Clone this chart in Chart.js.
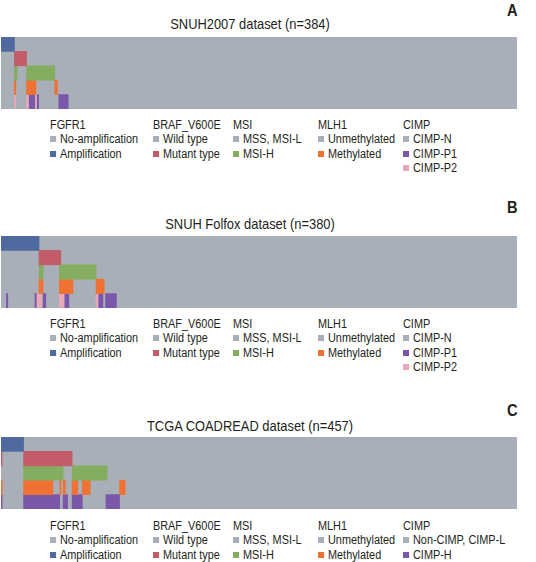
<!DOCTYPE html>
<html>
<head>
<meta charset="utf-8">
<script src="https://cdn.jsdelivr.net/npm/chart.js@4.4.1/dist/chart.umd.min.js"></script>
<style>
  body { margin: 0; background: #fff; width: 536px; height: 562px; position: relative; overflow: hidden;
         font-family: "Liberation Sans", Arial, sans-serif; color: #231f20; }
  .title { position: absolute; left: 0; width: 500px; text-align: center; font-size: 15px; line-height: 16px;
           transform: scaleX(0.86); transform-origin: 250px 0; }
  .letter { position: absolute; left: 507px; font-size: 17px; font-weight: bold; line-height: 18px;
            transform: scaleX(0.86); transform-origin: 0 0; }
  .heat { position: absolute; left: 1px; width: 516px; height: 72px; }
  .legend { position: absolute; font-size: 12.5px; line-height: 14.6px; white-space: nowrap;
            transform: scaleX(0.87); transform-origin: 0 0; }
  .legend .item { position: relative; padding-left: 11.5px; }
  .legend .item i { position: absolute; left: 0; top: 4px; width: 7px; height: 6px; }
</style>
</head>
<body>
<div class="letter" style="top:2px">A</div>
<div class="title" style="top:16px">SNUH2007 dataset (n=384)</div>
<div class="heat" style="top:37px"><canvas id="heatA"></canvas></div>
<div id="legA"></div>

<div class="letter" style="top:199px">B</div>
<div class="title" style="top:216px">SNUH Folfox dataset (n=380)</div>
<div class="heat" style="top:236px"><canvas id="heatB"></canvas></div>
<div id="legB"></div>

<div class="letter" style="top:402px">C</div>
<div class="title" style="top:418px">TCGA COADREAD dataset (n=457)</div>
<div class="heat" style="top:437px"><canvas id="heatC"></canvas></div>
<div id="legC"></div>

<script>
const rows = ['FGFR1', 'BRAF_V600E', 'MSI', 'MLH1', 'CIMP']

// sample index ranges [start, end) for altered samples, per panel
const samplesA = 384
const fgfr1AmpA = [[0, 10]]
const brafMutA = [[10, 19]]
const msiHighA = [[10, 12], [19, 40]]
const mlh1MethA = [[10, 11], [19, 26], [40, 42]]
const cimpP1A = [[21, 25], [27, 28], [43, 50]]
const cimpP2A = [[10, 11], [19, 21], [26, 27]]

const samplesB = 380
const fgfr1AmpB = [[0, 28]]
const brafMutB = [[28, 44]]
const msiHighB = [[28, 31], [43, 70]]
const mlh1MethB = [[28, 31], [43, 53], [70, 76]]
const cimpP1B = [[4, 5], [25, 26], [31, 33], [47, 50], [72, 75], [77, 85]]
const cimpP2B = [[26, 30], [43, 47], [70, 72]]

const samplesC = 457
const fgfr1AmpC = [[0, 20]]
const brafMutC = [[0, 1], [20, 63]]
const msiHighC = [[20, 55], [63, 94]]
const mlh1MethC = [[0, 1], [20, 46], [52, 53], [55, 57], [63, 68], [72, 79], [105, 110]]
const cimpHighC = [[0, 1], [20, 52], [55, 59], [63, 72], [93, 105]]

const colors = {
  base: '#a8afb9',
  amp: '#4f6a9f',
  mut: '#c25c68',
  msi: '#85ad5f',
  meth: '#f07232',
  p1: '#7a57a9',
  p2: '#e7a9b7'
}

function seg(row, list) {
  return list.map(r => ({ y: row, x: r }))
}

function makeHeat(id, n, groups) {
  const datasets = []
  groups.forEach(g => {
    datasets.push({ data: seg(g[0], g[2]), backgroundColor: g[1] })
  })
  // gray background bars go last so chart.js paints them underneath
  datasets.push({
    data: rows.map(r => ({ y: r, x: [0, n] })),
    backgroundColor: colors.base
  })
  datasets.forEach(d => {
    d.barPercentage = 1
    d.categoryPercentage = 1
    d.grouped = false
    d.borderWidth = 0
  })
  new Chart(document.getElementById(id), {
    type: 'bar',
    data: { labels: rows, datasets: datasets },
    options: {
      indexAxis: 'y',
      responsive: true,
      maintainAspectRatio: false,
      animation: false,
      layout: { padding: 0 },
      plugins: { legend: { display: false }, tooltip: { enabled: false } },
      scales: {
        x: { display: false, min: 0, max: n },
        y: { display: false }
      }
    }
  })
}

makeHeat('heatA', samplesA, [
  ['FGFR1', colors.amp, fgfr1AmpA],
  ['BRAF_V600E', colors.mut, brafMutA],
  ['MSI', colors.msi, msiHighA],
  ['MLH1', colors.meth, mlh1MethA],
  ['CIMP', colors.p1, cimpP1A],
  ['CIMP', colors.p2, cimpP2A]
])
makeHeat('heatB', samplesB, [
  ['FGFR1', colors.amp, fgfr1AmpB],
  ['BRAF_V600E', colors.mut, brafMutB],
  ['MSI', colors.msi, msiHighB],
  ['MLH1', colors.meth, mlh1MethB],
  ['CIMP', colors.p1, cimpP1B],
  ['CIMP', colors.p2, cimpP2B]
])
makeHeat('heatC', samplesC, [
  ['FGFR1', colors.amp, fgfr1AmpC],
  ['BRAF_V600E', colors.mut, brafMutC],
  ['MSI', colors.msi, msiHighC],
  ['MLH1', colors.meth, mlh1MethC],
  ['CIMP', colors.p1, cimpHighC]
])

// legends
const legendCols = [50, 152.5, 233, 318, 403]
const legendFGFR1 = [['No-amplification', colors.base], ['Amplification', colors.amp]]
const legendBRAF = [['Wild type', colors.base], ['Mutant type', colors.mut]]
const legendMSI = [['MSS, MSI-L', colors.base], ['MSI-H', colors.msi]]
const legendMLH1 = [['Unmethylated', colors.base], ['Methylated', colors.meth]]
const legendCIMP3 = [['CIMP-N', colors.base], ['CIMP-P1', colors.p1], ['CIMP-P2', colors.p2]]
const legendCIMP2 = [['Non-CIMP, CIMP-L', colors.base], ['CIMP-H', colors.p1]]

function makeLegend(id, top, cimp) {
  const host = document.getElementById(id)
  const groups = [legendFGFR1, legendBRAF, legendMSI, legendMLH1, cimp]
  groups.forEach((items, i) => {
    const col = document.createElement('div')
    col.className = 'legend'
    col.style.left = legendCols[i] + 'px'
    col.style.top = top + 'px'
    let html = '<div>' + rows[i] + '</div>'
    items.forEach(it => {
      html += '<div class="item"><i style="background:' + it[1] + '"></i>' + it[0] + '</div>'
    })
    col.innerHTML = html
    host.appendChild(col)
  })
}
makeLegend('legA', 117.5, legendCIMP3)
makeLegend('legB', 316.5, legendCIMP3)
makeLegend('legC', 518.5, legendCIMP2)
</script>
</body>
</html>
